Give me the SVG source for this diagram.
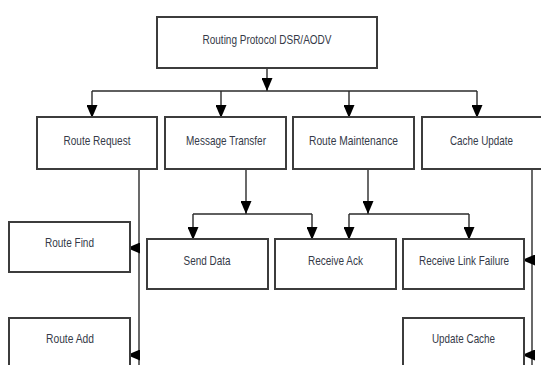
<svg xmlns="http://www.w3.org/2000/svg" width="541" height="365" viewBox="0 0 541 365">
<style>
.box{fill:#fff;stroke:#3c3c3c;stroke-width:2}
.lbl{font-family:"Liberation Sans",Arial,sans-serif;font-size:13.5px;fill:#353a48;text-anchor:middle}
.c{fill:none;stroke:#2a2a2a;stroke-width:1.4}
.a{marker-end:url(#ah)}
</style>
<defs>
<marker id="ah" markerUnits="userSpaceOnUse" viewBox="0 0 13 11" markerWidth="13" markerHeight="11" refX="13" refY="5.5" orient="auto">
<path d="M0 0L13 5.5L0 11z" fill="#000"/>
</marker>
</defs>
<rect width="541" height="365" fill="#fff"/>
<g id="connectors">
<path class="c a" d="M267 68V91"/>
<path class="c" d="M92 91H477"/>
<path class="c a" d="M92 91V118"/>
<path class="c a" d="M221 91V118"/>
<path class="c a" d="M349 91V118"/>
<path class="c a" d="M477 91V118"/>
<path class="c" d="M139 169V365"/>
<path class="c a" d="M139 248H127"/>
<path class="c a" d="M139 355H127"/>
<path class="c a" d="M246 169V214"/>
<path class="c" d="M193 214H312"/>
<path class="c a" d="M193 214V240"/>
<path class="c a" d="M312 214V240"/>
<path class="c a" d="M368 169V214"/>
<path class="c" d="M349 214H469"/>
<path class="c a" d="M349 214V240"/>
<path class="c a" d="M469 214V240"/>
<path class="c" d="M532 169V365"/>
<path class="c a" d="M532 260H522"/>
<path class="c a" d="M532 355H522"/>
</g>
<g id="routing-protocol"><rect class="box" x="157" y="17" width="220" height="51"/><text class="lbl" x="267" y="44" textLength="129" lengthAdjust="spacingAndGlyphs">Routing Protocol DSR/AODV</text></g>
<g id="route-request"><rect class="box" x="37" y="117" width="120" height="52"/><text class="lbl" x="97" y="145" textLength="67" lengthAdjust="spacingAndGlyphs">Route Request</text></g>
<g id="message-transfer"><rect class="box" x="165" y="117" width="121" height="52"/><text class="lbl" x="226" y="145" textLength="80" lengthAdjust="spacingAndGlyphs">Message Transfer</text></g>
<g id="route-maintenance"><rect class="box" x="293" y="117" width="121" height="52"/><text class="lbl" x="353.5" y="145" textLength="89" lengthAdjust="spacingAndGlyphs">Route Maintenance</text></g>
<g id="cache-update"><rect class="box" x="422" y="117" width="122" height="52"/><text class="lbl" x="481.5" y="145" textLength="63" lengthAdjust="spacingAndGlyphs">Cache Update</text></g>
<g id="route-find"><rect class="box" x="9" y="222" width="121" height="50"/><text class="lbl" x="69.5" y="247" textLength="49" lengthAdjust="spacingAndGlyphs">Route Find</text></g>
<g id="send-data"><rect class="box" x="147" y="239" width="121" height="50"/><text class="lbl" x="207" y="265" textLength="47" lengthAdjust="spacingAndGlyphs">Send Data</text></g>
<g id="receive-ack"><rect class="box" x="275" y="239" width="121" height="50"/><text class="lbl" x="335.5" y="265" textLength="55" lengthAdjust="spacingAndGlyphs">Receive Ack</text></g>
<g id="receive-link-failure"><rect class="box" x="403" y="239" width="121" height="50"/><text class="lbl" x="464" y="265" textLength="90" lengthAdjust="spacingAndGlyphs">Receive Link Failure</text></g>
<g id="route-add"><rect class="box" x="9" y="318" width="121" height="60"/><text class="lbl" x="70" y="343" textLength="48" lengthAdjust="spacingAndGlyphs">Route Add</text></g>
<g id="update-cache"><rect class="box" x="403" y="318" width="121" height="60"/><text class="lbl" x="463.5" y="343" textLength="63" lengthAdjust="spacingAndGlyphs">Update Cache</text></g>
</svg>
